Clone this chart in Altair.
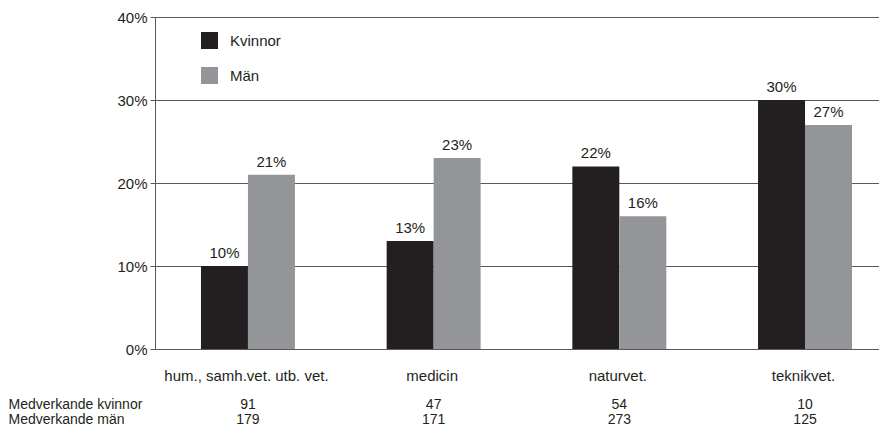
import altair as alt
import pandas as pd

FONT = "Liberation Sans"
DARK = "#231f20"
GRAY = "#939598"
LINE = "#58595b"

categories = ["hum., samh.vet. utb. vet.", "medicin", "naturvet.", "teknikvet."]
series = ["Kvinnor", "Män"]
women_pct = [10, 13, 22, 30]
men_pct = [21, 23, 16, 27]
row_labels = ["Medverkande kvinnor", "Medverkande män"]
women_n = [91, 47, 54, 10]
men_n = [179, 171, 273, 125]

rows = []
for c, w, m in zip(categories, women_pct, men_pct):
    rows.append({"cat": c, "serie": series[0], "pct": w, "lbl": f"{w}%"})
    rows.append({"cat": c, "serie": series[1], "pct": m, "lbl": f"{m}%"})
df = pd.DataFrame(rows)

trows = []
for c, w, m in zip(categories, women_n, men_n):
    trows.append({"cat": c, "row": row_labels[0], "n": w})
    trows.append({"cat": c, "row": row_labels[1], "n": m})
tdf = pd.DataFrame(trows)

xscale = alt.Scale(type="band", paddingInner=0.101, paddingOuter=0)
offscale = alt.Scale(paddingInner=0, paddingOuter=0.7766, align=0.63)

x_enc = alt.X("cat:N", sort=categories, scale=xscale,
              axis=alt.Axis(title=None, labelAngle=0, domain=False, ticks=False,
                            labelPadding=19, labelFontSize=15, labelColor=DARK,
                            labelFont=FONT, grid=False, labelOffset=8))
xo_enc = alt.XOffset("serie:N", sort=series, scale=offscale)
y_enc = alt.Y("pct:Q", scale=alt.Scale(domain=[0, 40]),
              axis=alt.Axis(title=None, values=[0, 10, 20, 30, 40],
                            labelExpr="datum.value + '%'", grid=True,
                            gridColor=LINE, gridWidth=1, gridOpacity=1,
                            domainColor=LINE, tickColor=LINE, tickSize=5,
                            labelPadding=3, labelFontSize=15, labelColor=DARK,
                            labelFont=FONT))

base = alt.Chart(df)
bars = base.mark_bar().encode(
    x=x_enc,
    xOffset=xo_enc,
    y=y_enc,
    color=alt.Color("serie:N", sort=series,
                    scale=alt.Scale(domain=series, range=[DARK, GRAY]),
                    legend=alt.Legend(title=None, orient="none", legendX=46, legendY=15,
                                      symbolType="square", symbolSize=289,
                                      symbolStrokeWidth=0, symbolOpacity=1,
                                      labelFontSize=15, labelFont=FONT,
                                      labelColor=DARK, rowPadding=18, labelOffset=12)),
)
texts = base.mark_text(baseline="bottom", dy=-5, fontSize=15, font=FONT, color=DARK).encode(
    x=alt.X("cat:N", sort=categories, scale=xscale),
    xOffset=xo_enc,
    y=alt.Y("pct:Q"),
    text="lbl:N",
)
top = alt.layer(bars, texts).properties(
    width=724, height=332, view=alt.ViewConfig(strokeWidth=0, strokeOpacity=0)
)

table = alt.Chart(tdf).mark_text(fontSize=14, font=FONT, color=DARK, dx=9.5).encode(
    x=alt.X("cat:N", sort=categories, scale=xscale, axis=None),
    y=alt.Y("row:N", sort=row_labels,
            scale=alt.Scale(type="band", paddingInner=0, paddingOuter=0),
            axis=alt.Axis(title=None, domain=False, ticks=False, labelAlign="left",
                          labelPadding=147, labelFontSize=14, labelFont=FONT,
                          labelColor=DARK, grid=False, gridOpacity=0)),
    text="n:Q",
).properties(width=724, height=30, view=alt.ViewConfig(strokeWidth=0, strokeOpacity=0))

chart = alt.vconcat(top, table, spacing=14).properties(
    padding={"left": 0, "top": 2, "right": 0, "bottom": 0}
).configure_view(strokeWidth=0, strokeOpacity=0).configure(font=FONT)

chart.save("out.html", embed_options={"renderer": "svg", "actions": False})
